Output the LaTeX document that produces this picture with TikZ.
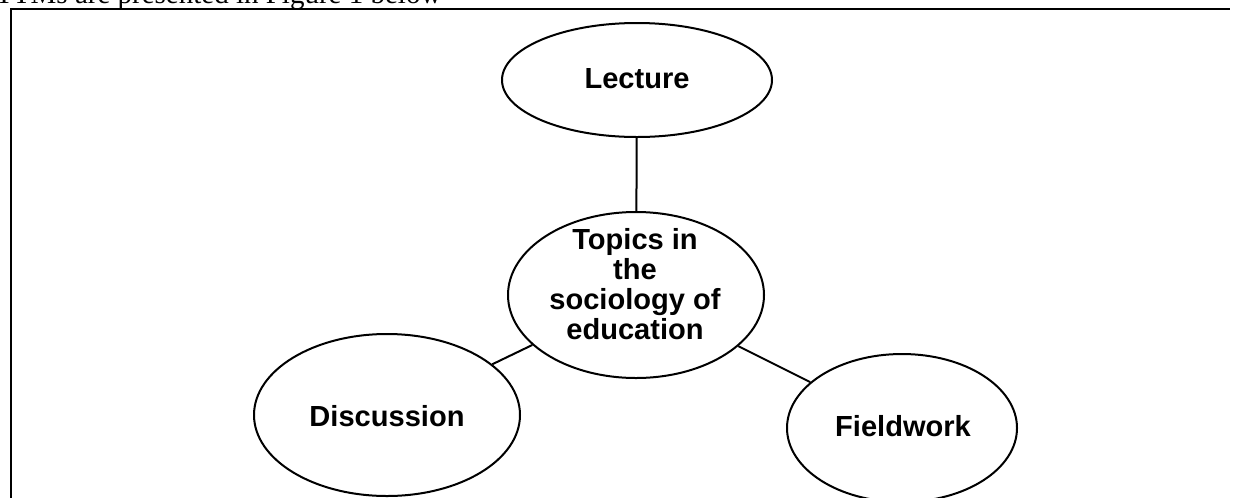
\documentclass[tikz,border=0pt]{standalone}
\usepackage{fontspec}
\setmainfont{Liberation Serif}
\newfontfamily\diagfont{Liberation Sans}
\usetikzlibrary{shapes.geometric}
\tikzset{
  oval/.style={draw, line width=1.5pt, ellipse, inner sep=0pt},
  lbl/.style={font=\diagfont\bfseries\fontsize{21.8}{22.5}\selectfont, align=center, inner sep=0pt},
  link/.style={line width=1.5pt},
  frame/.style={line width=1.4pt}
}
\begin{document}
\begin{tikzpicture}[x=0.75pt,y=-0.75pt]
\useasboundingbox (0,0) rectangle (1235,497);
\clip (0,0) rectangle (1235,497);
% caption text cut at top
\node[anchor=base west, inner sep=0pt, font=\fontsize{21.75}{26}\selectfont] (cap) at (-5,3) {TTMs are presented in Figure 1 below};
% frame
\coordinate (fbl) at (11,510);
\coordinate (ftl) at (11,9);
\coordinate (ftr) at (1230,9);
\draw[frame] (fbl) -- (ftl) -- (ftr);
% ellipses
\node[oval, minimum width=202.5pt, minimum height=85.5pt] (lec) at (637,80) {};
\node[oval, minimum width=192pt, minimum height=124.5pt] (c) at (636,295) {};
\node[oval, minimum width=199.5pt, minimum height=121.5pt] (d) at (387,415) {};
\node[oval, minimum width=172.5pt, minimum height=111pt] (f) at (902,428) {};
% labels
\node[lbl] (lect) at (637,78.5) {Lecture};
\node[lbl] (ct) at (635,284.5) {Topics in\\the\\sociology of\\education};
\node[lbl] (dt) at (387,416) {Discussion};
\node[lbl] (ft) at (903,426.5) {Fieldwork};
% connectors
\draw[link] (lec) -- (c);
\draw[link] (c) -- (d);
\draw[link] (c) -- (f);
\end{tikzpicture}
\end{document}
